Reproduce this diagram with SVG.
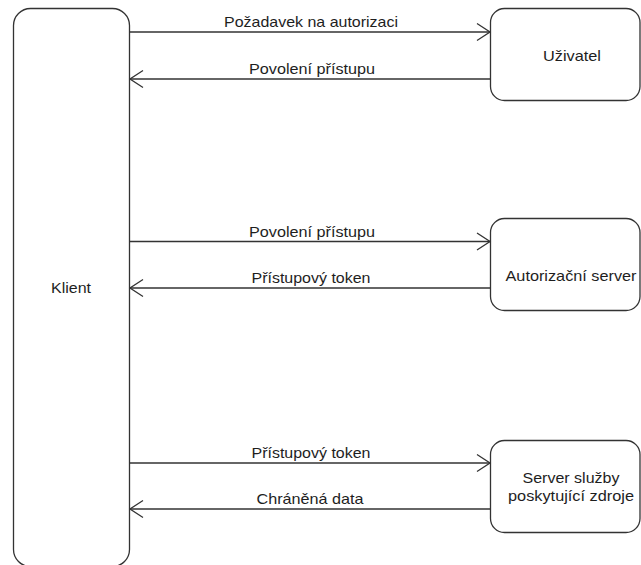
<svg xmlns="http://www.w3.org/2000/svg" width="641" height="565" viewBox="0 0 641 565">
  <style>
    .box { fill: #ffffff; stroke: #333333; stroke-width: 1.3; }
    .lbl { font-family: "Liberation Sans", Arial, sans-serif; font-size: 15px; fill: #1e1e1e; text-anchor: middle; }
    .edge { fill: none; stroke: #333333; stroke-width: 1.3; marker-end: url(#open); }
  </style>
  <defs>
    <marker id="open" viewBox="-15 -11 17 22" markerWidth="17" markerHeight="22" refX="0" refY="0" orient="auto" markerUnits="userSpaceOnUse">
      <path d="M-13,-8.5 L0,0 L-13,8.5" fill="none" stroke="#333333" stroke-width="1.3"/>
    </marker>
  </defs>
  <rect width="641" height="565" fill="#ffffff"/>

  <g id="klient">
    <rect class="box" x="13.5" y="8.5" width="116" height="558" rx="17" ry="17"/>
    <text class="lbl" x="71" y="293" textLength="40" lengthAdjust="spacingAndGlyphs">Klient</text>
  </g>

  <g id="uzivatel">
    <rect class="box" x="490.5" y="8.5" width="149.5" height="92" rx="14" ry="14"/>
    <text class="lbl" x="572" y="61" textLength="58" lengthAdjust="spacingAndGlyphs">Uživatel</text>
  </g>

  <g id="autorizacni-server">
    <rect class="box" x="490.5" y="218.5" width="149.5" height="92" rx="14" ry="14"/>
    <text class="lbl" x="571" y="281" textLength="131" lengthAdjust="spacingAndGlyphs">Autorizační server</text>
  </g>

  <g id="server-sluzby">
    <rect class="box" x="490.5" y="440.5" width="149.5" height="92" rx="14" ry="14"/>
    <text class="lbl" x="571" y="483" textLength="97" lengthAdjust="spacingAndGlyphs">Server služby</text>
    <text class="lbl" x="571" y="501" textLength="126" lengthAdjust="spacingAndGlyphs">poskytující zdroje</text>
  </g>

  <g id="connectors">
    <path class="edge" d="M129.5,32 H490"/>
    <path class="edge" d="M490.5,79 H130"/>
    <path class="edge" d="M129.5,241.5 H490"/>
    <path class="edge" d="M490.5,288 H130"/>
    <path class="edge" d="M129.5,463 H490"/>
    <path class="edge" d="M490.5,509 H130"/>

    <text class="lbl" x="311" y="27" textLength="174" lengthAdjust="spacingAndGlyphs">Požadavek na autorizaci</text>
    <text class="lbl" x="312" y="74" textLength="126" lengthAdjust="spacingAndGlyphs">Povolení přístupu</text>
    <text class="lbl" x="312" y="236.5" textLength="126" lengthAdjust="spacingAndGlyphs">Povolení přístupu</text>
    <text class="lbl" x="311" y="283" textLength="119" lengthAdjust="spacingAndGlyphs">Přístupový token</text>
    <text class="lbl" x="311" y="458" textLength="119" lengthAdjust="spacingAndGlyphs">Přístupový token</text>
    <text class="lbl" x="310" y="504" textLength="107" lengthAdjust="spacingAndGlyphs">Chráněná data</text>
  </g>
</svg>
